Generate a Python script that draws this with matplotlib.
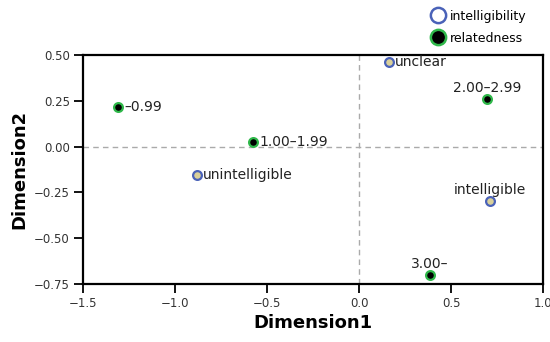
import matplotlib.pyplot as plt
from matplotlib.lines import Line2D

plt.rcParams['font.family'] = ['DejaVu Sans']

# intelligibility categories
INT_LABELS = ["unclear", "unintelligible", "intelligible"]
INT_X = [0.163, -0.88, 0.712]
INT_Y = [0.462, -0.155, -0.297]

# relatedness categories
REL_LABELS = ["–0.99", "1.00–1.99", "2.00–2.99", "3.00–"]
REL_X = [-1.31, -0.576, 0.696, 0.386]
REL_Y = [0.216, 0.025, 0.26, -0.70]

BLUE = "#4a62b8"
KHAKI = "#d9d09a"
GREEN = "#2fb84a"
TEXT = "#222222"

fig = plt.figure(figsize=(5.5, 3.42), dpi=100)
ax = fig.add_axes([83 / 550, 1 - 284 / 342, 460 / 550, 229 / 342])

ax.axhline(0, color="#aaaaaa", linestyle=(0, (4, 3)), linewidth=1.0, zorder=1)
ax.axvline(0, color="#aaaaaa", linestyle=(0, (4, 3)), linewidth=1.0, zorder=1)

ax.scatter(INT_X, INT_Y, s=40, color=KHAKI, edgecolor=BLUE, linewidth=1.6, zorder=3)
ax.scatter(REL_X, REL_Y, s=40, color="black", edgecolor=GREEN, linewidth=1.6, zorder=3)

# labels: right of point or above it
right = {"unclear", "unintelligible", "–0.99", "1.00–1.99"}
for lab, x, y in zip(INT_LABELS + REL_LABELS, INT_X + REL_X, INT_Y + REL_Y):
    if lab in right:
        ax.annotate(lab, (x, y), xytext=(4.5, 0), textcoords="offset points",
                    ha="left", va="center", fontsize=10, color=TEXT)
    else:
        ax.annotate(lab, (x, y), xytext=(0, 5), textcoords="offset points",
                    ha="center", va="baseline", fontsize=10, color=TEXT)

ax.set_xlim(-1.5, 1.0)
ax.set_ylim(-0.75, 0.5)
ax.set_xticks([-1.5, -1.0, -0.5, 0.0, 0.5, 1.0])
ax.set_yticks([0.5, 0.25, 0.0, -0.25, -0.5, -0.75])
ax.set_xticklabels(["−1.5", "−1.0", "−0.5", "0.0", "0.5", "1.0"])
ax.set_yticklabels(["0.50", "0.25", "0.00", "−0.25", "−0.50", "−0.75"])
ax.tick_params(direction="out", length=6.5, width=1.3, labelsize=8.5,
               labelcolor="#333333", pad=3)
for sp in ax.spines.values():
    sp.set_linewidth(1.6)

ax.set_xlabel("Dimension1", fontsize=13, fontweight="bold", labelpad=3)
ax.set_ylabel("Dimension2", fontsize=13, fontweight="bold", labelpad=4)

handles = [
    Line2D([], [], marker="o", linestyle="", markersize=11, markerfacecolor="white",
           markeredgecolor=BLUE, markeredgewidth=1.8, label="intelligibility"),
    Line2D([], [], marker="o", linestyle="", markersize=11, markerfacecolor="black",
           markeredgecolor=GREEN, markeredgewidth=1.8, label="relatedness"),
]
fig.legend(handles=handles, loc="upper right", bbox_to_anchor=(0.968, 0.99), frameon=False,
           fontsize=9, handletextpad=0.3, labelspacing=0.72, borderaxespad=0.1,
           handlelength=1.2)

fig.savefig("out.png", dpi=100)
